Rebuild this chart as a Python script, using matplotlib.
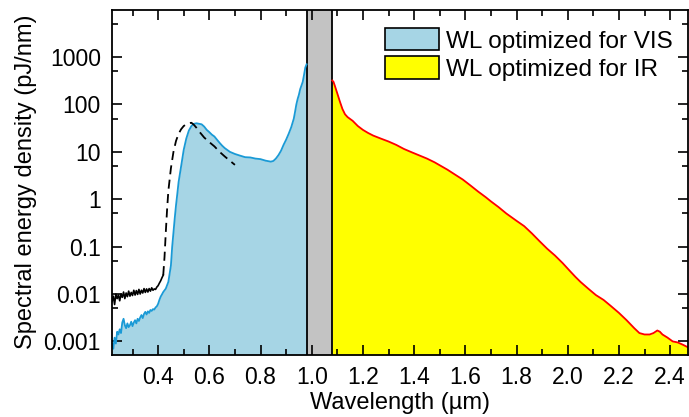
import matplotlib
matplotlib.use("Agg")
import matplotlib.pyplot as plt
from matplotlib.patches import Patch
from matplotlib.ticker import FixedLocator, NullFormatter

plt.rcParams["font.family"] = ["Liberation Sans", "DejaVu Sans"]

# WL optimized for VIS (blue)
vis_wl = [0.22, 0.225, 0.23, 0.235, 0.24, 0.245, 0.25, 0.255, 0.26, 0.265, 0.27, 0.275,
          0.28, 0.285, 0.29, 0.295, 0.30, 0.305, 0.31, 0.315, 0.32, 0.325, 0.33, 0.335,
          0.34, 0.345, 0.35, 0.355, 0.36, 0.365, 0.37, 0.375, 0.38, 0.385, 0.39, 0.395,
          0.40, 0.405, 0.41, 0.415, 0.42, 0.43, 0.44, 0.45, 0.455, 0.46, 0.465, 0.47,
          0.475, 0.48, 0.49, 0.50, 0.51, 0.52, 0.53, 0.54, 0.55, 0.56, 0.57, 0.58, 0.59,
          0.60, 0.61, 0.62, 0.63, 0.64, 0.65, 0.66, 0.68, 0.70, 0.72, 0.74, 0.76, 0.78,
          0.80, 0.82, 0.84, 0.85, 0.86, 0.87, 0.88, 0.89, 0.90, 0.91, 0.92, 0.93, 0.935,
          0.94, 0.945, 0.95, 0.955, 0.96, 0.965, 0.97, 0.975, 0.98]
vis_val = [0.0009, 0.0007, 0.0012, 0.0009, 0.0016, 0.0014, 0.0018, 0.0015, 0.0025, 0.003,
           0.0022, 0.0019, 0.0024, 0.002, 0.0022, 0.0026, 0.0021, 0.0025, 0.0028, 0.0024,
           0.003, 0.0027, 0.0032, 0.0036, 0.0031, 0.0038, 0.0042, 0.0037, 0.0043, 0.004,
           0.0046, 0.0044, 0.0048, 0.0047, 0.0052, 0.0055, 0.0062, 0.0075, 0.0088, 0.0098,
           0.011, 0.013, 0.018, 0.04, 0.1, 0.2, 0.4, 0.75, 1.3, 2.3, 5, 11, 19, 28, 35, 39,
           40, 39, 38, 34, 29, 26, 23, 21, 18, 15.5, 13.5, 12, 10, 9, 8.3, 7.7, 7.6, 7.2,
           7.0, 6.5, 6.2, 6.4, 7.2, 8.5, 10.5, 14, 18, 24, 33, 50, 70, 100, 130, 160, 210,
           250, 300, 420, 600, 700]

# reference measurement (black, solid noisy part then dashed)
ref_wl = [0.22, 0.225, 0.23, 0.235, 0.24, 0.245, 0.25, 0.255, 0.26, 0.265, 0.27, 0.275,
          0.28, 0.285, 0.29, 0.295, 0.30, 0.305, 0.31, 0.315, 0.32, 0.325, 0.33, 0.335,
          0.34, 0.345, 0.35, 0.355, 0.36, 0.365, 0.37, 0.375, 0.38, 0.385, 0.39, 0.395,
          0.40, 0.405, 0.41, 0.415, 0.42]
ref_val = [0.007, 0.009, 0.006, 0.010, 0.008, 0.0095, 0.0072, 0.010, 0.0085, 0.011, 0.008,
           0.0105, 0.0088, 0.0115, 0.009, 0.0108, 0.0093, 0.012, 0.0095, 0.0118, 0.0098,
           0.0125, 0.010, 0.012, 0.0105, 0.013, 0.0108, 0.0128, 0.011, 0.013, 0.0115,
           0.0135, 0.012, 0.0128, 0.0125, 0.014, 0.015, 0.017, 0.019, 0.022, 0.025]
dash_wl = [0.42, 0.425, 0.43, 0.435, 0.44, 0.45, 0.46, 0.47, 0.48, 0.49, 0.50, 0.51, 0.52,
           0.53, 0.54, 0.55, 0.56, 0.58, 0.60, 0.62, 0.64, 0.66, 0.68, 0.70]
dash_val = [0.025, 0.06, 0.2, 0.6, 1.5, 4.5, 10, 17, 24, 30, 35, 38, 40, 41, 37, 32, 27,
            20, 16, 13, 10, 8, 6.5, 5.3]

# WL optimized for IR (yellow / red)
ir_wl = [1.08, 1.085, 1.09, 1.10, 1.11, 1.12, 1.13, 1.14, 1.16, 1.18, 1.20, 1.22, 1.24,
         1.27, 1.30, 1.33, 1.36, 1.39, 1.42, 1.45, 1.48, 1.50, 1.53, 1.56, 1.59, 1.62,
         1.65, 1.68, 1.70, 1.73, 1.76, 1.80, 1.83, 1.86, 1.89, 1.92, 1.95, 1.98, 2.01,
         2.03, 2.05, 2.08, 2.11, 2.14, 2.17, 2.20, 2.23, 2.26, 2.28, 2.30, 2.32, 2.335,
         2.35, 2.36, 2.37, 2.39, 2.41, 2.43, 2.45, 2.47]
ir_val = [320, 300, 250, 170, 115, 80, 62, 54, 45, 35, 29, 25, 22, 19, 16.5, 14, 11.5, 9.8,
          8.4, 7.2, 6, 5.2, 4.2, 3.3, 2.6, 1.95, 1.45, 1.1, 0.9, 0.68, 0.5, 0.35, 0.27,
          0.19, 0.13, 0.09, 0.065, 0.045, 0.03, 0.023, 0.018, 0.013, 0.0095, 0.0075,
          0.0055, 0.004, 0.0028, 0.0019, 0.0015, 0.0014, 0.0014, 0.0015, 0.0017, 0.0016,
          0.0014, 0.0012, 0.001, 0.00095, 0.00085, 0.00075]

x_ticks = [0.4, 0.6, 0.8, 1.0, 1.2, 1.4, 1.6, 1.8, 2.0, 2.2, 2.4]
y_ticks = [0.001, 0.01, 0.1, 1, 10, 100, 1000]
y_labels = ["0.001", "0.01", "0.1", "1", "10", "100", "1000"]

VIS_FILL = "#a6d5e5"
VIS_LINE = "#1a9ad6"
IR_FILL = "#ffff00"
IR_LINE = "#ff0000"
GAP = "#c3c3c3"

fig = plt.figure(figsize=(6.89, 4.17), dpi=100)
ax = fig.add_axes([0.1626, 0.149, 0.836, 0.828])
ymin, ymax = 5.2e-4, 1e4

ax.fill_between(vis_wl, vis_val, ymin, color=VIS_FILL, lw=0)
ax.fill_between(ir_wl, ir_val, ymin, color=IR_FILL, lw=0)
ax.axvspan(0.98, 1.08, color=GAP, lw=0)
ax.axvline(0.98, color="black", lw=1.3)
ax.axvline(1.08, color="black", lw=1.3)

ax.plot(vis_wl, vis_val, color=VIS_LINE, lw=1.3)
ax.plot(ref_wl, ref_val, color="black", lw=1.2)
ax.plot(dash_wl, dash_val, color="black", lw=1.3, dashes=(5, 3))
ax.plot(ir_wl, ir_val, color=IR_LINE, lw=1.3)

ax.set_yscale("log")
ax.set_xlim(0.22, 2.47)
ax.set_ylim(ymin, ymax)

ax.set_xticks(x_ticks)
ax.set_xticklabels([f"{v:.1f}" for v in x_ticks])
ax.xaxis.set_minor_locator(FixedLocator([0.3 + 0.2 * i for i in range(11)]))
ax.set_yticks(y_ticks)
ax.set_yticklabels(y_labels)
ax.yaxis.set_minor_locator(FixedLocator([5 * 10.0 ** k for k in range(-4, 4)]))
ax.yaxis.set_minor_formatter(NullFormatter())

ax.tick_params(which="both", direction="in", top=True, right=True, width=1.2,
               labelsize=16.5, pad=8)
ax.tick_params(which="major", length=7)
ax.tick_params(which="minor", length=4)
for s in ax.spines.values():
    s.set_linewidth(1.3)

ax.set_xlabel("Wavelength (µm)", fontsize=17, labelpad=2)
ax.set_ylabel("Spectral energy density (pJ/nm)", fontsize=17, labelpad=5)

handles = [Patch(facecolor=VIS_FILL, edgecolor="black", lw=1.2),
           Patch(facecolor=IR_FILL, edgecolor="black", lw=1.2)]
ax.legend(handles, ["WL optimized for VIS", "WL optimized for IR"], loc="upper right",
          frameon=False, fontsize=17.5, handlelength=2.2, handleheight=1.05,
          handletextpad=0.3, labelspacing=0.15, borderaxespad=0.0,
          bbox_to_anchor=(0.99, 0.975))

fig.savefig("out.png", dpi=100)
